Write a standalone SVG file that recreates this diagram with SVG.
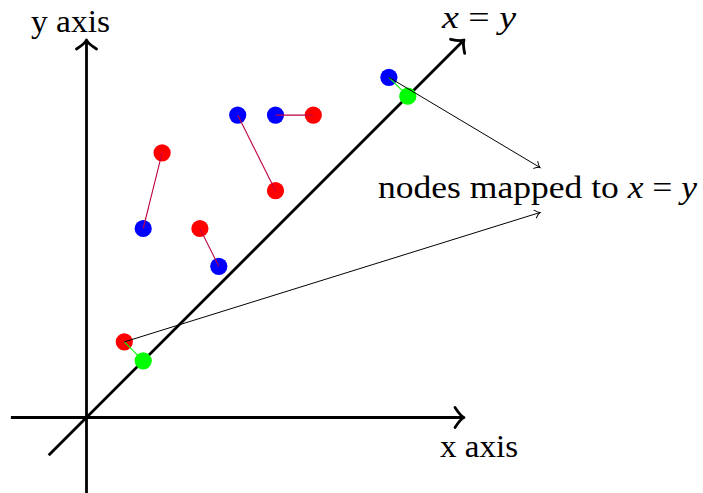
<svg xmlns="http://www.w3.org/2000/svg" width="703" height="493" viewBox="0 0 703 493">
<defs>
<style>
.axis{stroke:#000;stroke-width:2.8;fill:none}
.thin{stroke:#000;stroke-width:1;fill:none}
.pair{stroke:#bf0040;stroke-width:1.1;fill:none}
.map{stroke:#00ff00;stroke-width:1.1;fill:none}
.red{fill:#ff0000}
.blue{fill:#0000ff}
.green{fill:#00ff00}
text{font-family:"Liberation Serif","DejaVu Serif",serif;font-size:32px;fill:#000}
.it{font-style:italic}
</style>
<marker id="bigArrow" markerUnits="userSpaceOnUse" markerWidth="30" markerHeight="30" refX="0" refY="0" orient="auto" overflow="visible">
<path d="M -9 -10 Q -3.5 -1.5 0 0 Q -3.5 1.5 -9 10" stroke="#000" stroke-width="2.8" fill="none" stroke-linecap="round" stroke-linejoin="round"/>
</marker>
<marker id="smallArrow" markerUnits="userSpaceOnUse" markerWidth="12" markerHeight="12" refX="0" refY="0" orient="auto" overflow="visible">
<path d="M -5 -4 Q -2 -0.6 0 0 Q -2 0.6 -5 4" stroke="#000" stroke-width="1" fill="none" stroke-linecap="round"/>
</marker>
</defs>
<g id="axes">
<line id="x-axis" class="axis" x1="10.9" y1="417.5" x2="464" y2="417.5" marker-end="url(#bigArrow)"/>
<line id="y-axis" class="axis" x1="86.5" y1="493" x2="86.5" y2="40" marker-end="url(#bigArrow)"/>
<line id="diagonal" class="axis" x1="48.7" y1="455.3" x2="464" y2="40" marker-end="url(#bigArrow)"/>
</g>
<g id="labels">
<text id="y-axis-label" x="31" y="32" textLength="79" lengthAdjust="spacingAndGlyphs">y axis</text>
<text id="x-axis-label" x="440" y="457" textLength="78" lengthAdjust="spacingAndGlyphs">x axis</text>
<text id="diag-label" x="442" y="28" textLength="74" lengthAdjust="spacingAndGlyphs"><tspan class="it">x</tspan> = <tspan class="it">y</tspan></text>
<text id="mapped-label" x="378" y="198" textLength="319" lengthAdjust="spacingAndGlyphs">nodes mapped to <tspan class="it">x</tspan> = <tspan class="it">y</tspan></text>
</g>
<g id="nodes">
<circle id="n1" class="red" cx="162.1" cy="152.9" r="8.6"/>
<circle id="n2" class="blue" cx="143.2" cy="228.5" r="8.6"/>
<circle id="n3" class="red" cx="199.9" cy="228.5" r="8.6"/>
<circle id="n4" class="blue" cx="218.8" cy="266.3" r="8.6"/>
<circle id="n5" class="blue" cx="237.7" cy="115.1" r="8.6"/>
<circle id="n6" class="red" cx="275.5" cy="190.7" r="8.6"/>
<circle id="n7" class="blue" cx="275.5" cy="115.1" r="8.6"/>
<circle id="n8" class="red" cx="313.3" cy="115.1" r="8.6"/>
<circle id="n9" class="blue" cx="388.9" cy="77.3" r="8.6"/>
<circle id="n10" class="green" cx="407.8" cy="96.2" r="8.6"/>
<circle id="n11" class="red" cx="124.3" cy="341.9" r="8.6"/>
<circle id="n12" class="green" cx="143.2" cy="360.8" r="8.6"/>
</g>
<g id="connectors">
<line class="pair" x1="162.1" y1="152.9" x2="143.2" y2="228.5"/>
<line class="pair" x1="199.9" y1="228.5" x2="218.8" y2="266.3"/>
<line class="pair" x1="237.7" y1="115.1" x2="275.5" y2="190.7"/>
<line class="pair" x1="275.5" y1="115.1" x2="313.3" y2="115.1"/>
<line class="map" x1="388.9" y1="77.3" x2="407.8" y2="96.2"/>
<line class="map" x1="124.3" y1="341.9" x2="143.2" y2="360.8"/>
<line class="thin" x1="388.9" y1="77.3" x2="540" y2="167.5" marker-end="url(#smallArrow)"/>
<line class="thin" x1="124.3" y1="341.9" x2="540" y2="212.5" marker-end="url(#smallArrow)"/>
</g>
</svg>
